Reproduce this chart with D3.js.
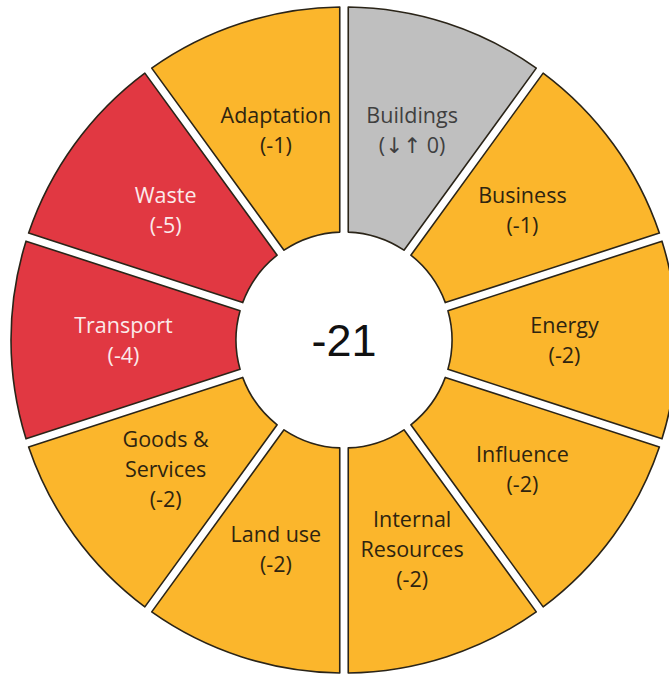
<!DOCTYPE html>
<html>
<head>
<meta charset="utf-8">
<script src="https://cdn.jsdelivr.net/npm/d3@7"></script>
<style>
  html, body { margin: 0; padding: 0; background: #ffffff; }
  svg { display: block; }
</style>
</head>
<body>
<svg id="chart" width="669" height="677"></svg>
<script>
// ---- data ----
const categories = ["Buildings", "Business", "Energy", "Influence", "Internal Resources",
                    "Land use", "Goods & Services", "Transport", "Waste", "Adaptation"];
const scores = [0, -1, -2, -2, -2, -2, -2, -4, -5, -1];
const scoreLabels = ["(\u2193\u2191 0)", "(-1)", "(-2)", "(-2)", "(-2)", "(-2)", "(-2)", "(-4)", "(-5)", "(-1)"];
const nameLines = [["Buildings"], ["Business"], ["Energy"], ["Influence"], ["Internal", "Resources"],
                   ["Land use"], ["Goods &", "Services"], ["Transport"], ["Waste"], ["Adaptation"]];
const ratings = ["grey", "amber", "amber", "amber", "amber", "amber", "amber", "red", "red", "amber"];
const total = d3.sum(scores);

// ---- styles ----
const fillColor = d3.scaleOrdinal().domain(["amber", "red", "grey"]).range(["#FBB62C", "#E13842", "#BFBFBF"]);
const textColor = d3.scaleOrdinal().domain(["amber", "red", "grey"]).range(["#2e2410", "#fbeaea", "#3f3f3f"]);

const svg = d3.select("#chart");
const cx = 344, cy = 340, outerR = 333, innerR = 108;

const g = svg.append("g").attr("transform", `translate(${cx},${cy})`);

const rows = categories.map((c, i) => ({ name: c, score: scores[i], scoreLabel: scoreLabels[i], lines: nameLines[i], rating: ratings[i] }));

const pie = d3.pie().value(() => 1).sort(null);
const arc = d3.arc().innerRadius(innerR).outerRadius(outerR).padRadius(100).padAngle(0.085);
const arcs = pie(rows);

g.selectAll("path.slice")
  .data(arcs)
  .join("path")
  .attr("class", "slice")
  .attr("d", arc)
  .attr("fill", d => fillColor(d.data.rating))
  .attr("stroke", "#2a2418")
  .attr("stroke-width", 1.6)
  .attr("stroke-linejoin", "round");

const lineH = 30;
g.selectAll("text.lbl")
  .data(arcs)
  .join("text")
  .attr("class", "lbl")
  .attr("font-family", "'Open Sans', 'DejaVu Sans', sans-serif")
  .attr("font-size", 21.5)
  .attr("text-anchor", "middle")
  .attr("fill", d => textColor(d.data.rating))
  .each(function(d) {
    const [x, y] = arc.centroid(d);
    const lines = d.data.lines.concat([d.data.scoreLabel]);
    const n = lines.length;
    const t = d3.select(this);
    lines.forEach((ln, k) => {
      t.append("tspan")
        .attr("x", x)
        .attr("y", y + (k - (n - 1) / 2) * lineH)
        .attr("dy", "0.35em")
        .text(ln);
    });
  });

g.append("text")
  .attr("x", 0).attr("y", 0).attr("dy", "0.36em")
  .attr("text-anchor", "middle")
  .attr("font-family", "'Liberation Sans', Arial, sans-serif")
  .attr("font-size", 45)
  .attr("fill", "#111")
  .text(total);
</script>
</body>
</html>
